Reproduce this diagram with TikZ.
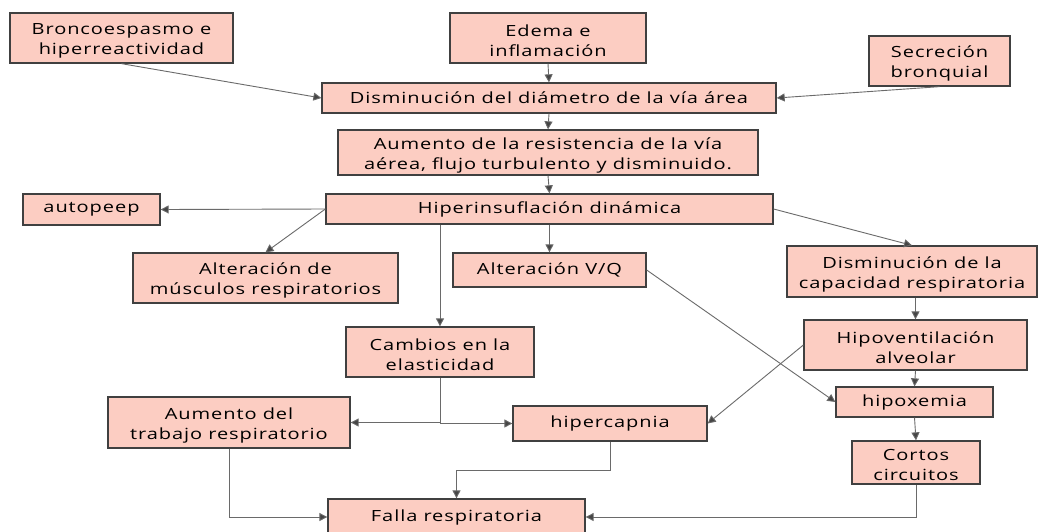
\documentclass[tikz,border=0pt]{standalone}
\usepackage{fontspec}
\setmainfont{Open Sans}[FakeStretch=1.3, LetterSpace=6]
\usetikzlibrary{arrows.meta}
\definecolor{boxfill}{HTML}{FCCDC2}
\definecolor{boxline}{HTML}{404040}
\definecolor{arrline}{HTML}{6A6A6A}
\definecolor{tipcol}{HTML}{454545}
\tikzset{
  x=1pt, y=-1pt,
  box/.style={draw=boxline, fill=boxfill, line width=1.3pt, align=center, inner sep=0pt,
    font=\fontsize{15.4}{20}\selectfont, text=black},
  conn/.style={draw=arrline, line width=0.9pt, -{Triangle[length=8pt,width=8pt,fill=tipcol]}},
}
\newcommand{\bx}[6]{\node[box, minimum width=#4pt, minimum height=#5pt] (#1) at (#2,#3) {#6};}
\newcommand{\fl}{\rule{0pt}{17pt}}
\begin{document}
\begin{tikzpicture}
\useasboundingbox (0,0) rectangle (1038,531);
\fill[white] (0,0) rectangle (1038,531);
\begin{scope}
\clip (0,0) rectangle (1038,531);
\bx{bronco}{121.5}{38}{223}{50}{\fl Broncoespasmo e\\hiperreactividad}
\bx{edema}{548}{38}{196}{50}{\fl Edema e\\inflamación}
\bx{secre}{939.5}{61}{141}{50}{\fl Secreción\\bronquial}
\bx{dism}{549}{98}{454}{30}{Disminución del diámetro de la vía área}
\bx{aum}{548}{152.5}{420}{45}{\fl Aumento de la resistencia de la vía\\aérea, flujo turbulento y disminuido.}
\bx{hiper}{549.5}{209}{447}{30}{Hiperinsuflación dinámica}
\bx{auto}{91.5}{209.5}{137}{31}{autopeep}
\bx{musc}{265.5}{278}{265}{50}{\fl Alteración de\\músculos respiratorios}
\bx{vq}{549.5}{270}{193}{34}{Alteración V/Q}
\bx{capa}{912}{271.5}{250}{51}{\fl Disminución de la\\capacidad respiratoria}
\bx{camb}{440}{352}{188}{50}{\fl Cambios en la\\elasticidad}
\bx{hipov}{915.5}{345}{223}{50}{\fl Hipoventilación\\alveolar}
\bx{hipox}{914.5}{402}{157}{30}{hipoxemia}
\bx{trab}{229}{422.5}{242}{51}{\fl Aumento del\\trabajo respiratorio}
\bx{hcap}{610}{423.5}{194}{35}{hipercapnia}
\bx{cortos}{916}{462.5}{128}{43}{\fl Cortos\\circuitos}
\bx{falla}{456.5}{517}{257}{36}{Falla respiratoria}
\end{scope}
\draw[conn] (bronco.south) -- (dism.west);
\draw[conn] (edema.south) -- (dism.north);
\draw[conn] (secre.south) -- (dism.east);
\draw[conn] (dism.south) -- (aum.north);
\draw[conn] (aum.south) -- (hiper.north);
\draw[conn] (hiper.west) -- (auto.east);
\draw[conn] (hiper.west) -- (musc.north);
\draw[conn] (hiper.south -| camb.north) -- (camb.north);
\draw[conn] (hiper.south) -- (vq.north);
\draw[conn] (hiper.east) -- (capa.north);
\draw[conn] (vq.east) -- (hipox.west);
\draw[conn] (hipov.north |- capa.south) -- (hipov.north);
\draw[conn] (hipov.west) -- (hcap.east);
\draw[conn] (hipov.south) -- (hipox.north);
\draw[conn] (hipox.south) -- (cortos.north);
\draw[conn] (cortos.south) |- (falla.east);
\draw[conn] (hcap.south) -- ++(0,29) -| (falla.north);
\draw[conn] (camb.south) |- (trab.east);
\draw[conn] (camb.south) |- (hcap.west);
\draw[conn] (trab.south) |- (falla.west);
\end{tikzpicture}
\end{document}
